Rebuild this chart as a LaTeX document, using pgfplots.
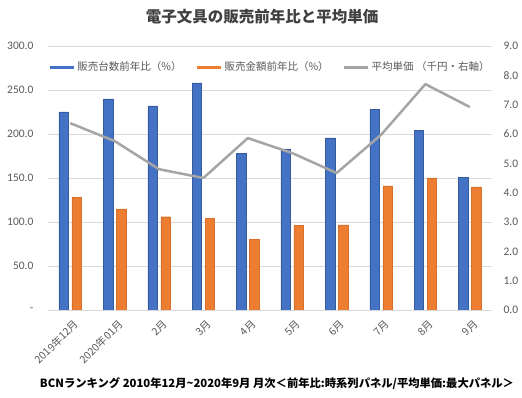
\documentclass[border=0pt]{standalone}
\usepackage{pgfplots}
\pgfplotsset{compat=1.18}
\usepackage{fontspec}
\setmainfont{Noto Sans CJK JP}
\newfontfamily\numfont{Carlito}
\definecolor{cblue}{HTML}{4472C4}
\definecolor{corange}{HTML}{ED7D31}
\definecolor{cgray}{HTML}{A5A5A5}
\definecolor{cgrid}{HTML}{D9D9D9}
\definecolor{ctext}{HTML}{595959}
\definecolor{ctitle}{HTML}{404040}
\begin{document}
\begin{tikzpicture}[x=1pt,y=1pt]
\path[use as bounding box] (0,0) rectangle (522,398);
\pgfplotsset{
  base/.style={
    at={(48pt,88pt)}, anchor=south west,
    scale only axis, width=444pt, height=264pt,
    xmin=-0.5, xmax=9.5,
    ymin=0,
    axis line style={draw=none},
    tick style={draw=none},
    yticklabel style={font=\numfont\fontsize{11.5}{13}\selectfont, text=ctext},
    /pgf/number format/assume math mode=true,
  }
}
\begin{axis}[base,
  ymax=300,
  ytick={0,50,100,150,200,250,300},
  yticklabels={-,50.0,100.0,150.0,200.0,250.0,300.0},
  ymajorgrids, grid style={cgrid, line width=0.75pt},
  xtick={0,...,9},
  xticklabels={2019年12月,2020年01月,2月,3月,4月,5月,6月,7月,8月,9月},
  xticklabel style={rotate=45, anchor=north east, inner sep=1pt, yshift=-4pt,
    font=\fontsize{10.5}{12}\selectfont, text=ctext},
  ybar=3.5pt, bar width=9.5pt,
  yticklabel style={xshift=-11pt},
]
\addplot[fill=cblue, draw=cblue!80!black, line width=0.4pt] coordinates {
(0,225) (1,240) (2,232) (3,258) (4,178) (5,183) (6,195.5) (7,228) (8,204.5) (9,151)};
\addplot[fill=corange, draw=corange!90!black, line width=0.4pt] coordinates {
(0,128) (1,115) (2,106) (3,104) (4,80) (5,96) (6,96.6) (7,141) (8,150) (9,140)};
\draw[cgrid, line width=0.75pt] (axis cs:-0.5,0) -- (axis cs:9.5,0);
\end{axis}
\begin{axis}[base,
  ymax=9,
  ytick={0,...,9},
  yticklabels={0.0,1.0,2.0,3.0,4.0,5.0,6.0,7.0,8.0,9.0},
  axis y line*=right,
  xtick=\empty,
  yticklabel style={xshift=8pt},
  legend columns=3,
  legend style={draw=none, fill=none, at={(0.50,0.92)}, anchor=center,
    font=\fontsize{10.5}{12}\selectfont, text=ctext,
    /tikz/every even column/.append style={column sep=12pt}},
  legend image code/.code={\draw[#1, line width=3pt] (0pt,0pt) -- (24pt,0pt);},
]
\addlegendimage{cblue}
\addlegendentry{販売台数前年比（\%）}
\addlegendimage{corange}
\addlegendentry{販売金額前年比（\%）}
\addplot[cgray, line width=2.5pt, line join=round, mark=none] coordinates {
(0,6.37) (1,5.76) (2,4.8) (3,4.5) (4,5.86) (5,5.35) (6,4.67) (7,5.97) (8,7.7) (9,6.92)};
\addlegendentry{平均単価 （千円・右軸）}
\end{axis}
\node[font=\bfseries\fontsize{15.5}{18}\selectfont, text=ctitle] at (262,381) {電子文具の販売前年比と平均単価};
\node[font=\bfseries\fontsize{11.3}{13}\selectfont, text=black] at (277,14) {BCNランキング 2010年12月\textasciitilde 2020年9月 月次＜前年比:時系列パネル/平均単価:最大パネル＞};
\end{tikzpicture}
\end{document}
